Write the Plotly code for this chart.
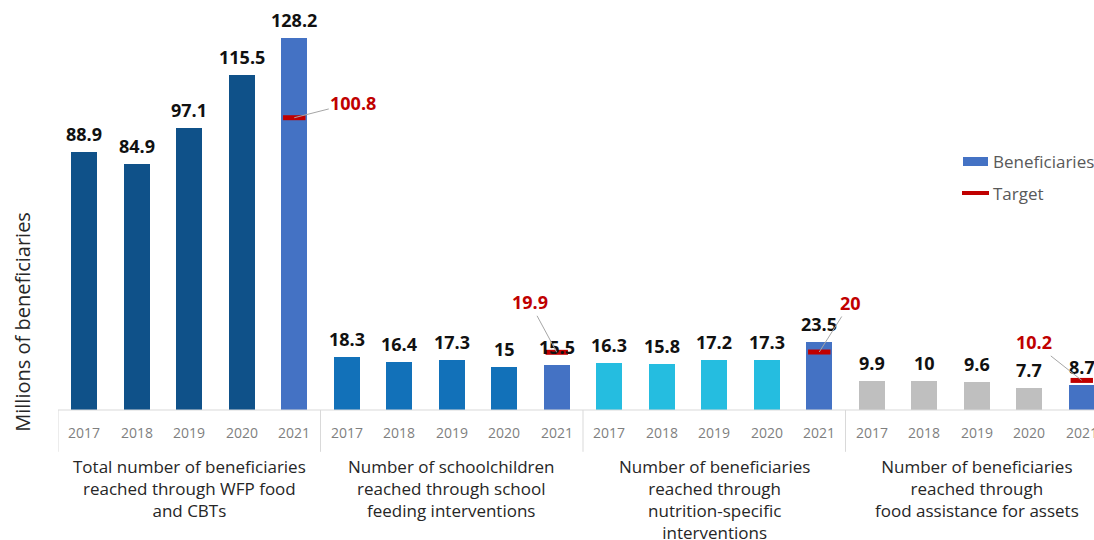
import plotly.graph_objects as go

years = ["2017", "2018", "2019", "2020", "2021"]
group_labels = [
    ["Total number of beneficiaries", "reached through WFP food", "and CBTs"],
    ["Number of schoolchildren", "reached through school", "feeding interventions"],
    ["Number of beneficiaries", "reached through", "nutrition-specific", "interventions"],
    ["Number of beneficiaries", "reached through", "food assistance for assets"],
]
total_values = [88.9, 84.9, 97.1, 115.5, 128.2]
school_values = [18.3, 16.4, 17.3, 15, 15.5]
nutrition_values = [16.3, 15.8, 17.2, 17.3, 23.5]
ffa_values = [9.9, 10, 9.6, 7.7, 8.7]
targets_2021 = [100.8, 19.9, 20, 10.2]
legend_names = ["Beneficiaries", "Target"]
group_colors = ["#0f5189", "#1271b9", "#25bde0", "#bfbfbf"]
color_2021 = "#4472c4"
target_color = "#c00000"

groups = [total_values, school_values, nutrition_values, ffa_values]
# target label offsets (pixels) relative to target marker
target_offsets = [(59, -15), (-27, -50), (31, -49), (-48, -38)]

FONT = "Open Sans"
PLOT_H = 410.0
fig = go.Figure()

hist_x, hist_y, hist_c = [], [], []
x21, y21 = [], []
for g, vals in enumerate(groups):
    for i, v in enumerate(vals):
        pos = g * 5 + i
        if i < 4:
            hist_x.append(pos)
            hist_y.append(v)
            hist_c.append(group_colors[g])
        else:
            x21.append(pos)
            y21.append(v)

fig.add_trace(go.Bar(x=hist_x, y=hist_y, marker=dict(color=hist_c, line=dict(width=0)),
                     width=0.5, showlegend=False, hoverinfo="skip"))
fig.add_trace(go.Bar(x=x21, y=y21, name=legend_names[0], showlegend=False,
                     marker=dict(color=color_2021, line=dict(width=0)), width=0.5))
fig.add_trace(go.Scatter(x=x21, y=targets_2021, mode="markers", name=legend_names[1],
                         showlegend=False,
                         marker=dict(symbol="line-ew", size=16,
                                     line=dict(width=5, color=target_color))))

annotations = []
for g, vals in enumerate(groups):
    for i, v in enumerate(vals):
        pos = g * 5 + i
        annotations.append(dict(x=pos, y=v, text=f"<b>{v:g}</b>", showarrow=False,
                                yanchor="bottom", yshift=4,
                                font=dict(family=FONT, size=18, color="#111111")))
        # category (year) label under the axis
        annotations.append(dict(x=pos, y=(PLOT_H - 432) / PLOT_H, yref="paper",
                                text=years[i], showarrow=False, xanchor="center",
                                yanchor="middle",
                                font=dict(family=FONT, size=14, color="#7f7f7f")))

for xp, t, (ax, ay) in zip(x21, targets_2021, target_offsets):
    annotations.append(dict(x=xp, y=t, text=f"<b>{t:g}</b>", showarrow=True,
                            arrowhead=0, arrowwidth=1, arrowcolor="#a6a6a6",
                            ax=ax, ay=ay, bgcolor="white",
                            font=dict(family=FONT, size=18, color=target_color)))

for g, lines in enumerate(group_labels):
    annotations.append(dict(x=g * 5 + 2, y=(PLOT_H - 453) / PLOT_H, xref="x", yref="paper",
                            text="<br>".join(lines), showarrow=False, xanchor="center",
                            yanchor="top",
                            font=dict(family=FONT, size=17, color="#262626")))

annotations.append(dict(x=-0.035, y=(PLOT_H - 322) / PLOT_H, xref="paper", yref="paper",
                        textangle=-90, xanchor="center", yanchor="middle",
                        text="Millions of beneficiaries", showarrow=False,
                        font=dict(family=FONT, size=20, color="#262626")))

# manual legend (text may run past the right edge, as in the original)
def px_x(p):
    return (p - 58) / 1036.0

def px_y(p):
    return (PLOT_H - p) / PLOT_H

for name, ypx in zip(legend_names, [161, 193]):
    annotations.append(dict(x=px_x(991), y=px_y(ypx), xref="paper", yref="paper",
                            text=name, showarrow=False, xanchor="left", yanchor="middle",
                            font=dict(family=FONT, size=17, color="#595959")))

shapes = [dict(type="line", xref="paper", yref="paper", x0=0, x1=1, y0=0, y1=0,
               line=dict(color="#d9d9d9", width=1))]
for g in range(4):
    shapes.append(dict(type="line", xref="x", yref="paper", x0=g * 5 - 0.5, x1=g * 5 - 0.5,
                       y0=0, y1=-0.102, line=dict(color="#d9d9d9", width=1)))
shapes.append(dict(type="rect", xref="paper", yref="paper", x0=px_x(963), x1=px_x(988),
                   y0=px_y(166), y1=px_y(157), fillcolor=color_2021, line=dict(width=0)))
shapes.append(dict(type="line", xref="paper", yref="paper", x0=px_x(962), x1=px_x(989),
                   y0=px_y(193), y1=px_y(193), line=dict(color=target_color, width=4)))

fig.update_layout(
    width=1094, height=540,
    margin=dict(l=58, r=0, t=0, b=130),
    plot_bgcolor="white", paper_bgcolor="white",
    bargap=0,
    xaxis=dict(range=[-0.5, 19.233], showticklabels=False, showgrid=False,
               zeroline=False, showline=False, ticks="", automargin=False),
    yaxis=dict(range=[0, 141.4], visible=False, showgrid=False, automargin=False),
    annotations=annotations,
    shapes=shapes,
    showlegend=False,
)
fig.write_html("out.html", config={"displayModeBar": False},
               post_script="document.body.style.margin='0px';document.body.style.overflow='hidden';")
